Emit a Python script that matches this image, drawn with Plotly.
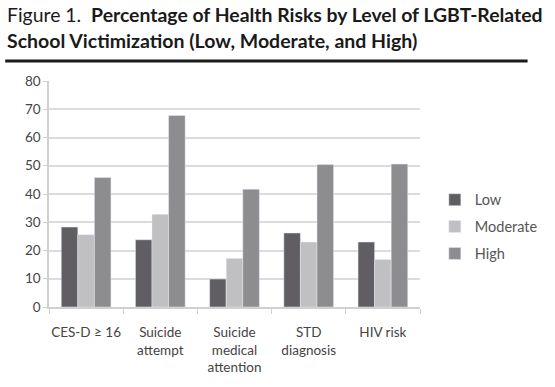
import plotly.graph_objects as go

categories = ["CES-D ≥ 16", "Suicide<br>attempt", "Suicide<br>medical<br>attention", "STD<br>diagnosis", "HIV risk"]
low = [28.3, 23.8, 9.9, 26.2, 23.0]
moderate = [25.6, 32.8, 17.2, 23.0, 16.8]
high = [45.8, 67.8, 41.7, 50.4, 50.6]
y_ticks = [0, 10, 20, 30, 40, 50, 60, 70, 80]

FONT = "Lato"
fig = go.Figure()
fig.add_trace(go.Bar(name="Low", x=categories, y=low, marker=dict(color="#605e63"), legendgroup="a"))
fig.add_trace(go.Bar(name="Moderate", x=categories, y=moderate, marker=dict(color="#c0bfc1"), legendgroup="b"))
fig.add_trace(go.Bar(name="High", x=categories, y=high, marker=dict(color="#8d8c8f"), legendgroup="c"))

fig.update_layout(
    width=555, height=387,
    margin=dict(l=49, r=116, t=81, b=80),
    paper_bgcolor="white", plot_bgcolor="white",
    barmode="group", bargap=0.33, bargroupgap=0,
    showlegend=True,
    legend=dict(x=1.04, y=0.355, xanchor="left", yanchor="middle",
                font=dict(family=FONT, size=14.5, color="#555555"),
                itemwidth=30, tracegroupgap=5, bgcolor="rgba(0,0,0,0)"),
    font=dict(family=FONT, color="#555555"),
    annotations=[
        dict(text="Figure 1.  <b>Percentage of Health Risks by Level of LGBT-Related</b>",
             xref="paper", yref="paper", x=-0.118, y=(307 - 14) / 226,
             xanchor="left", yanchor="middle", showarrow=False,
             font=dict(family=FONT, size=19.4, color="#1a1a1a")),
        dict(text="<b>School Victimization (Low, Moderate, and High)</b>",
             xref="paper", yref="paper", x=-0.118, y=(307 - 40) / 226,
             xanchor="left", yanchor="middle", showarrow=False,
             font=dict(family=FONT, size=19.5, color="#1a1a1a")),
    ],
    shapes=[dict(type="line", xref="paper", yref="paper", x0=-0.118, x1=1.29,
                 y0=(307 - 61) / 226, y1=(307 - 61) / 226, line=dict(color="#1a1a1a", width=3))],
)
fig.update_xaxes(
    automargin=False, tickangle=0,
    showline=True, linecolor="#d0d0d0", linewidth=1.5,
    ticks="outside", tickson="boundaries", ticklen=5, tickcolor="#d0d0d0",
    tickfont=dict(family=FONT, size=13.5, color="#444444"),
    ticklabelstandoff=12,
)
fig.update_yaxes(
    automargin=False,
    range=[0, 80], tickvals=y_ticks,
    showgrid=True, gridcolor="#dcdcdc", gridwidth=1.5,
    showline=True, linecolor="#d0d0d0", linewidth=1.5,
    ticks="outside", ticklen=4, tickcolor="#d0d0d0",
    tickfont=dict(family=FONT, size=13.5, color="#444444"),
    zeroline=False,
)
fig.write_html("out.html", config={"displayModeBar": False},
               post_script="document.body.style.margin='0';document.body.style.overflow='hidden';")
